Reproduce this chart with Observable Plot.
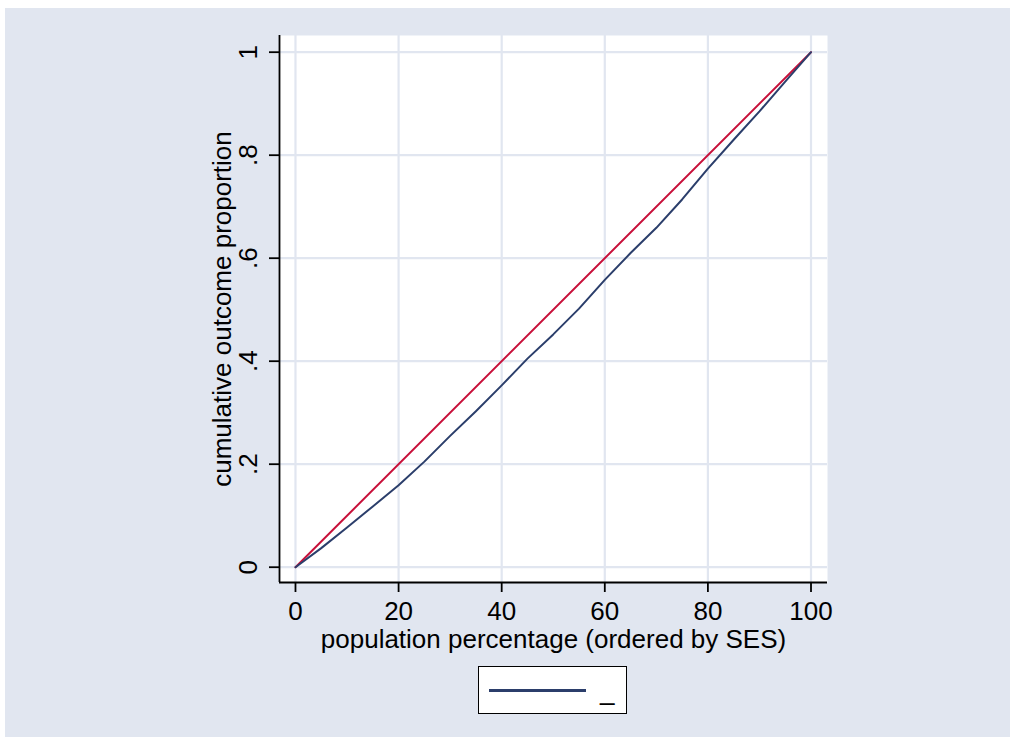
<!DOCTYPE html>
<html><head><meta charset="utf-8">
<script src="https://cdn.jsdelivr.net/npm/d3@7"></script>
<script src="https://cdn.jsdelivr.net/npm/@observablehq/plot@0.6"></script>
<style>
html,body{margin:0;padding:0;background:#fff;width:1015px;height:745px;overflow:hidden;font-family:"Liberation Sans",Arial,Helvetica,sans-serif;}
#bg{position:absolute;left:5px;top:8px;width:1005px;height:729px;background:#e1e6f0;}
#chart{position:absolute;left:0;top:0;}
#legend{position:absolute;left:478px;top:666px;width:149px;height:48px;box-sizing:border-box;background:#fff;border:1px solid #000;}
#legend .swatch{position:absolute;left:10px;top:22px;width:97px;height:3px;background:#2b3e6b;}
#legend .lab{position:absolute;left:121px;top:11px;font-size:26px;line-height:26px;color:#000;}
</style></head>
<body>
<div id="bg"></div>
<div id="chart"></div>
<div id="legend"><div class="swatch"></div><div class="lab">_</div></div>
<script>
// population percentage (ordered by SES)
const popPct = [0, 5, 10, 15, 20, 25, 30, 35, 40, 45, 50, 55, 60, 65, 70, 75, 80, 85, 90, 95, 100];
// cumulative outcome proportion (concentration curve)
const cumProp = [0, 0.037, 0.077, 0.118, 0.159, 0.205, 0.255, 0.303, 0.353, 0.405, 0.452, 0.502, 0.558, 0.610, 0.659, 0.714, 0.774, 0.830, 0.885, 0.943, 1];
// line of equality
const eqX = [0, 100];
const eqY = [0, 1];
const xTicks = [0, 20, 40, 60, 80, 100];
const xTickLabels = ["0", "20", "40", "60", "80", "100"];
const yTicks = [0, 0.2, 0.4, 0.6, 0.8, 1];
const yTickLabels = ["0", ".2", ".4", ".6", ".8", "1"];
const xTitle = "population percentage (ordered by SES)";
const yTitle = "cumulative outcome proportion";
const legendLabels = ["_"];

const navy = "#2b3e6b", red = "#c8103a", grid = "#e1e6f0";
const xDomain = [-3.1, 103.2];
const yDomain = [-0.0297, 1.0324];

const conc = popPct.map((x, i) => ({x, y: cumProp[i]}));
const eq = eqX.map((x, i) => ({x, y: eqY[i]}));

const chart = Plot.plot({
  width: 1015, height: 660,
  marginLeft: 279, marginRight: 188, marginTop: 35, marginBottom: 78,
  x: {domain: xDomain, axis: null},
  y: {domain: yDomain, axis: null},
  style: {background: "transparent", fontFamily: "'Liberation Sans', Arial, Helvetica, sans-serif", fontSize: "26px", color: "#000", overflow: "visible"},
  marks: [
    Plot.frame({fill: "white", stroke: "none"}),
    Plot.ruleX(xTicks, {stroke: grid, strokeWidth: 2.2}),
    Plot.ruleY(yTicks, {stroke: grid, strokeWidth: 2.2}),
    Plot.line(eq, {x: "x", y: "y", stroke: red, strokeWidth: 2}),
    Plot.line(conc, {x: "x", y: "y", stroke: navy, strokeWidth: 2}),
    Plot.ruleX([xDomain[0]], {stroke: "#000", strokeWidth: 1.8}),
    Plot.ruleY([yDomain[0]], {stroke: "#000", strokeWidth: 1.8}),
    Plot.axisX({ticks: xTicks, tickSize: 10, tickFormat: () => "", label: null, strokeWidth: 1.8, stroke: "#000"}),
    Plot.axisY({ticks: yTicks, tickSize: 10, tickFormat: () => "", label: null, strokeWidth: 1.8, stroke: "#000"}),
    Plot.text(xTicks, {x: d => d, text: (d, i) => xTickLabels[i], frameAnchor: "bottom", dy: 29, lineAnchor: "middle", fill: "#000"}),
    Plot.text(yTicks, {y: d => d, text: (d, i) => yTickLabels[i], frameAnchor: "left", dx: -31, rotate: -90, lineAnchor: "middle", textAnchor: "middle", fill: "#000"}),
    Plot.text([xTitle], {text: d => d, frameAnchor: "bottom", dy: 57, lineAnchor: "middle", textAnchor: "middle", fill: "#000"}),
    Plot.text([yTitle], {text: d => d, frameAnchor: "left", dx: -57, rotate: -90, lineAnchor: "middle", textAnchor: "middle", fill: "#000"})
  ]
});
document.getElementById("chart").appendChild(chart);
</script>
</body></html>
